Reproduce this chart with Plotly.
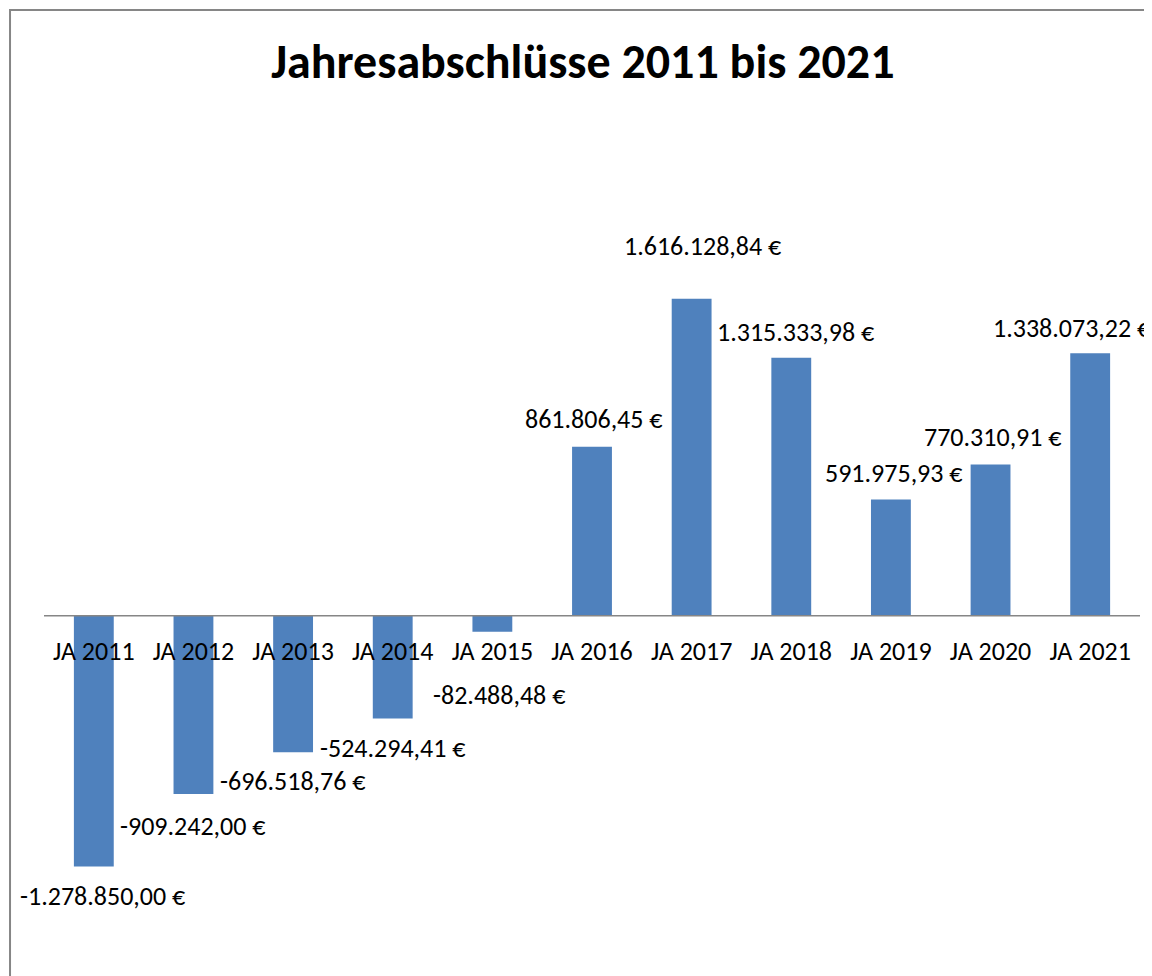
import plotly.graph_objects as go

categories = ["JA 2011", "JA 2012", "JA 2013", "JA 2014", "JA 2015", "JA 2016",
              "JA 2017", "JA 2018", "JA 2019", "JA 2020", "JA 2021"]
values = [-1278850.00, -909242.00, -696518.76, -524294.41, -82488.48, 861806.45,
          1616128.84, 1315333.98, 591975.93, 770310.91, 1338073.22]
labels = ["-1.278.850,00 €", "-909.242,00 €", "-696.518,76 €", "-524.294,41 €",
          "-82.488,48 €", "861.806,45 €", "1.616.128,84 €", "1.315.333,98 €",
          "591.975,93 €", "770.310,91 €", "1.338.073,22 €"]
# label offsets (pixels) relative to bar end, mimicking the manual placement
label_dx = [9, 0, 0, 0, 7, 2, 11, 4, 3, 2, -19]
label_dy = [-30, -32, -29, -30, -63, 28, 53, 26, 27, 28, 25]

YMIN, YMAX = -1.7e6, 2.4e6
FONT = "Carlito, Calibri, Lato, sans-serif"

fig = go.Figure()
fig.add_trace(go.Bar(x=categories, y=values, marker=dict(color="#4F81BD", line=dict(width=0)),
                     hoverinfo="skip"))

for c, v, t, dx, dy in zip(categories, values, labels, label_dx, label_dy):
    fig.add_annotation(x=c, y=v, text=t, showarrow=False, xshift=dx, yshift=dy,
                       font=dict(family=FONT, size=26, color="#000000"),
                       xanchor="center", yanchor="middle")

# zero axis line across the plot area
fig.add_shape(type="line", xref="paper", yref="y", x0=0, x1=1, y0=0, y1=0,
              line=dict(color="#868686", width=1.5), layer="above")

# outer chart frame
fig.add_shape(type="rect", xref="paper", yref="paper",
              x0=-0.031, x1=1.05, y0=-0.1, y1=1.168,
              line=dict(color="#868686", width=2), fillcolor="rgba(0,0,0,0)")

fig.update_layout(
    width=1152, height=976,
    margin=dict(l=36, r=20, t=137, b=35),
    paper_bgcolor="white", plot_bgcolor="white",
    showlegend=False,
    bargap=0.6,
    title=dict(text="<b>Jahresabschlüsse 2011 bis 2021</b>", x=0.499, xanchor="center",
               y=0.9455, yanchor="middle",
               font=dict(family=FONT, size=48, color="#000000")),
    xaxis=dict(anchor="free", position=(0 - YMIN) / (YMAX - YMIN),
               range=[-0.5, len(categories) - 0.5], autorange=False,
               showline=False, ticks="", ticklabelstandoff=17,
               showgrid=False, zeroline=False,
               tickfont=dict(family=FONT, size=26, color="#000000")),
    yaxis=dict(range=[YMIN, YMAX], visible=False, showgrid=False, zeroline=False),
)

fig.write_html("out.html")
